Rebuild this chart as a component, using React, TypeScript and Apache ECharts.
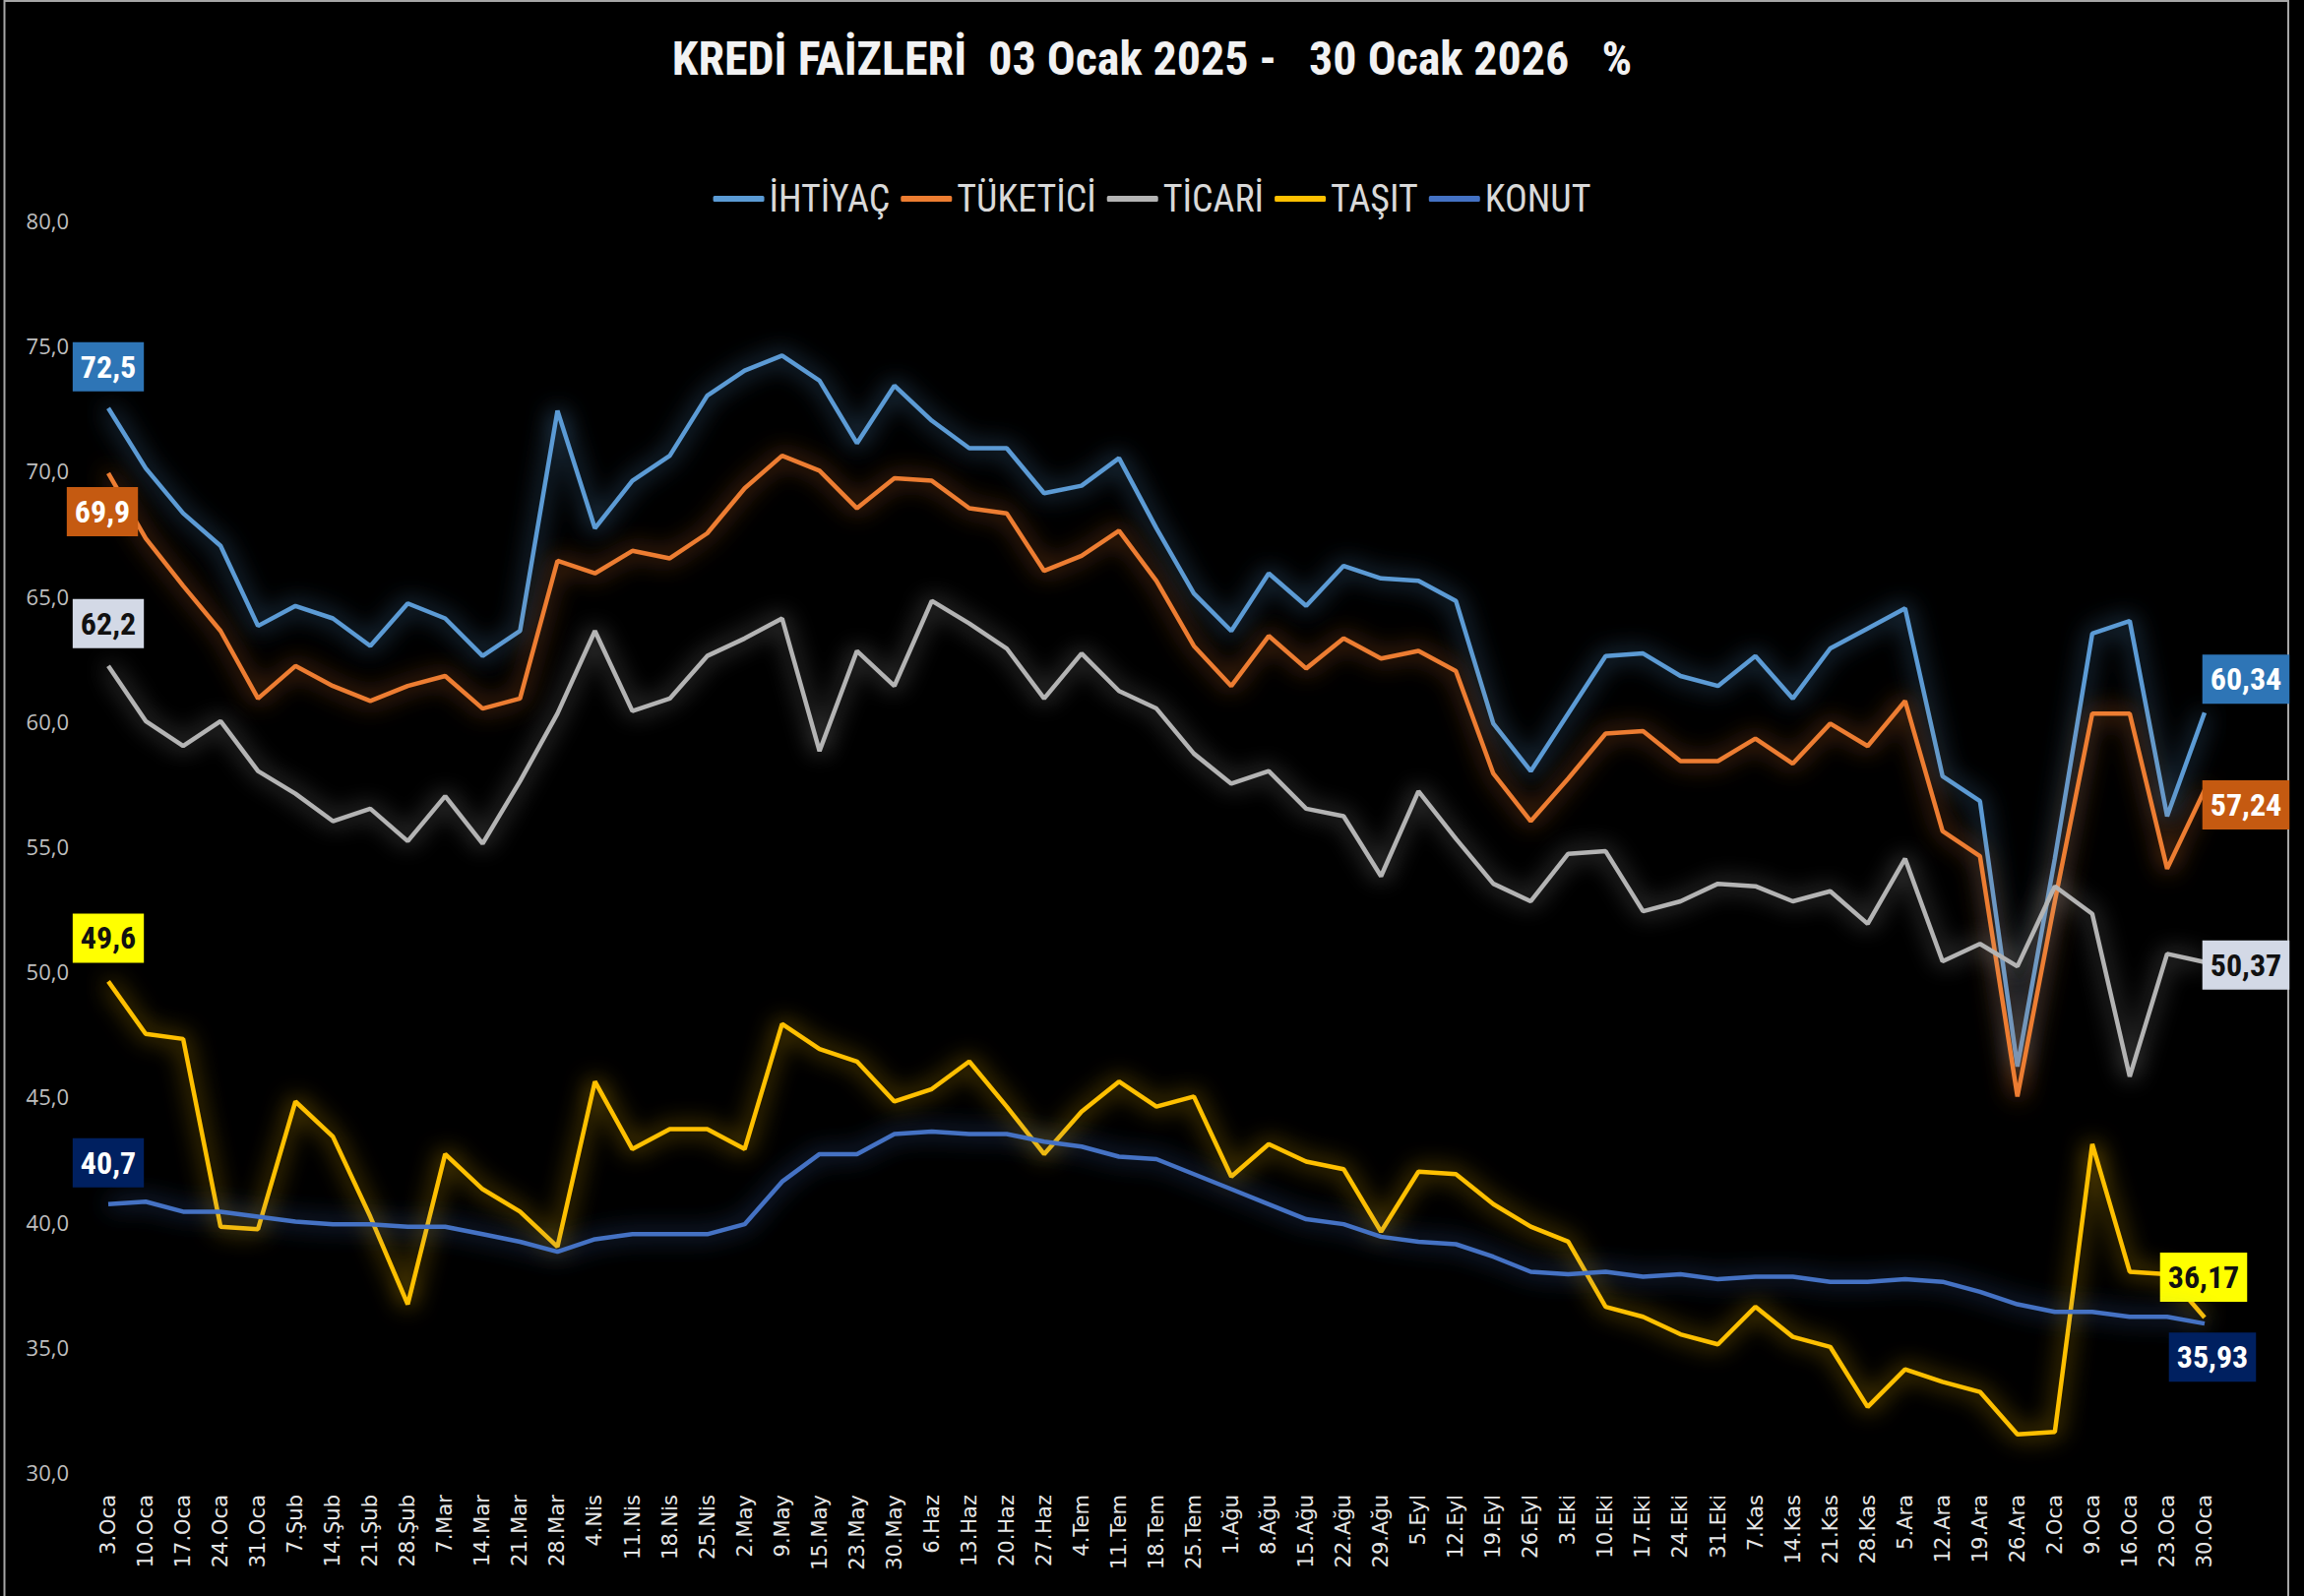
import React, { useEffect, useRef } from "react";
import * as echarts from "echarts";

const TITLE = "KREDİ FAİZLERİ  03 Ocak 2025 -   30 Ocak 2026   %";

const categories = [
  "3.Oca", "10.Oca", "17.Oca", "24.Oca", "31.Oca", "7.Şub", "14.Şub", "21.Şub", "28.Şub",
  "7.Mar", "14.Mar", "21.Mar", "28.Mar", "4.Nis", "11.Nis", "18.Nis", "25.Nis",
  "2.May", "9.May", "15.May", "23.May", "30.May", "6.Haz", "13.Haz", "20.Haz", "27.Haz",
  "4.Tem", "11.Tem", "18.Tem", "25.Tem", "1.Ağu", "8.Ağu", "15.Ağu", "22.Ağu", "29.Ağu",
  "5.Eyl", "12.Eyl", "19.Eyl", "26.Eyl", "3.Eki", "10.Eki", "17.Eki", "24.Eki", "31.Eki",
  "7.Kas", "14.Kas", "21.Kas", "28.Kas", "5.Ara", "12.Ara", "19.Ara", "26.Ara",
  "2.Oca", "9.Oca", "16.Oca", "23.Oca", "30.Oca",
];

const ihtiyac = [
  72.5, 70.1, 68.3, 67.0, 63.8, 64.6, 64.1, 63.0, 64.7, 64.1, 62.6, 63.6, 72.4, 67.7, 69.6, 70.6,
  73.0, 74.0, 74.6, 73.6, 71.1, 73.4, 72.0, 70.9, 70.9, 69.1, 69.4, 70.5, 67.7, 65.1, 63.6, 65.9,
  64.6, 66.2, 65.7, 65.6, 64.8, 59.9, 58.0, 60.3, 62.6, 62.7, 61.8, 61.4, 62.6, 60.9, 62.9, 63.7,
  64.5, 57.8, 56.8, 46.2, 54.5, 63.5, 64.0, 56.2, 60.34,
];

const tuketici = [
  69.9, 67.3, 65.4, 63.6, 60.9, 62.2, 61.4, 60.8, 61.4, 61.8, 60.5, 60.9, 66.4, 65.9, 66.8, 66.5,
  67.5, 69.3, 70.6, 70.0, 68.5, 69.7, 69.6, 68.5, 68.3, 66.0, 66.6, 67.6, 65.6, 63.0, 61.4, 63.4,
  62.1, 63.3, 62.5, 62.8, 62.0, 57.9, 56.0, 57.7, 59.5, 59.6, 58.4, 58.4, 59.3, 58.3, 59.9, 59.0,
  60.8, 55.6, 54.6, 45.0, 52.8, 60.3, 60.3, 54.1, 57.24,
];

const ticari = [
  62.2, 60.0, 59.0, 60.0, 58.0, 57.1, 56.0, 56.5, 55.2, 57.0, 55.1, 57.6, 60.3, 63.6, 60.4, 60.9,
  62.6, 63.3, 64.1, 58.8, 62.8, 61.4, 64.8, 63.9, 62.9, 60.9, 62.7, 61.2, 60.5, 58.7, 57.5, 58.0,
  56.5, 56.2, 53.8, 57.2, 55.3, 53.5, 52.8, 54.7, 54.8, 52.4, 52.8, 53.5, 53.4, 52.8, 53.2, 51.9,
  54.5, 50.4, 51.1, 50.2, 53.4, 52.3, 45.8, 50.7, 50.37,
];

const tasit = [
  49.6, 47.5, 47.3, 39.8, 39.7, 44.8, 43.4, 40.2, 36.7, 42.7, 41.3, 40.4, 39.0, 45.6, 42.9, 43.7,
  43.7, 42.9, 47.9, 46.9, 46.4, 44.8, 45.3, 46.4, 44.6, 42.7, 44.4, 45.6, 44.6, 45.0, 41.8, 43.1,
  42.4, 42.1, 39.6, 42.0, 41.9, 40.7, 39.8, 39.2, 36.6, 36.2, 35.5, 35.1, 36.6, 35.4, 35.0, 32.6,
  34.1, 33.6, 33.2, 31.5, 31.6, 43.1, 38.0, 37.9, 36.17,
];

const konut = [
  40.7, 40.8, 40.4, 40.4, 40.2, 40.0, 39.9, 39.9, 39.8, 39.8, 39.5, 39.2, 38.8, 39.3, 39.5, 39.5,
  39.5, 39.9, 41.6, 42.7, 42.7, 43.5, 43.6, 43.5, 43.5, 43.2, 43.0, 42.6, 42.5, 41.9, 41.3, 40.7,
  40.1, 39.9, 39.4, 39.2, 39.1, 38.6, 38.0, 37.9, 38.0, 37.8, 37.9, 37.7, 37.8, 37.8, 37.6, 37.6,
  37.7, 37.6, 37.2, 36.7, 36.4, 36.4, 36.2, 36.2, 35.93,
];

const seriesNames = ["İHTİYAÇ", "TÜKETİCİ", "TİCARİ", "TAŞIT", "KONUT"];
const seriesValues = [ihtiyac, tuketici, ticari, tasit, konut];
const lineColors = ["#5b9bd5", "#ed7d31", "#b4b4b4", "#ffc000", "#4472c4"];
const glowColors = [
  "rgba(91,155,213,0.9)",
  "rgba(237,125,49,0.9)",
  "rgba(180,180,180,0.8)",
  "rgba(255,192,0,0.9)",
  "rgba(68,114,196,0.9)",
];
const labelBg = ["#2e75b6", "#c55a11", "#d3d9e6", "#ffff00", "#002060"];
const labelFg = ["#ffffff", "#ffffff", "#111111", "#111111", "#ffffff"];
// offsets of the first and last value boxes relative to their points
const firstOffsets = [[0, -42], [-6, 39], [0, -43], [0, -44], [0, -42]];
const lastOffsets = [[42, -34], [42, 15], [42, 3], [-1, -41], [8, 34]];

const yTicks = { min: 30, max: 80, interval: 5 };

const NARROW = "'Liberation Sans Narrow', 'Roboto Condensed', 'Open Sans', sans-serif";

function fmt(v: number): string {
  return String(v).replace(".", ",");
}

export default function App() {
  const ref = useRef<HTMLDivElement>(null);

  useEffect(() => {
    if (!ref.current) return;
    const chart = echarts.init(ref.current, undefined, { renderer: "svg" });
    const last = categories.length - 1;

    const series = seriesNames.map((name, s) => ({
      name,
      type: "line",
      symbol: "circle",
      symbolSize: 0,
      showSymbol: true,
      showAllSymbol: true,
      z: 2 + s,
      lineStyle: {
        color: lineColors[s],
        width: 4.5,
        shadowBlur: 24,
        shadowColor: glowColors[s],
      },
      itemStyle: { color: lineColors[s] },
      emphasis: { disabled: true },
      data: seriesValues[s].map((v, i) => {
        if (i !== 0 && i !== last) return v;
        const off = i === 0 ? firstOffsets[s] : lastOffsets[s];
        return {
          value: v,
          label: {
            show: true,
            position: "inside",
            align: "center",
            verticalAlign: "middle",
            offset: off,
            formatter: (p: any) => fmt(p.value),
            color: labelFg[s],
            backgroundColor: labelBg[s],
            padding: [9, 8, 9, 8],
            fontFamily: NARROW,
            fontWeight: "bold",
            fontSize: 32,
            lineHeight: 32,
          },
        };
      }),
    }));

    chart.setOption({
      animation: false,
      backgroundColor: "#000000",
      title: {
        text: TITLE,
        left: "center",
        top: 30,
        textStyle: {
          color: "#f2f2f2",
          fontSize: 48,
          fontWeight: "bold",
          fontFamily: NARROW,
        },
      },
      legend: {
        data: seriesNames,
        left: "center",
        top: 178,
        icon: "roundRect",
        itemWidth: 52,
        itemHeight: 6,
        itemGap: 11,
        selectedMode: false,
        textStyle: {
          color: "#d9d9d9",
          fontSize: 38,
          fontFamily: NARROW,
        },
      },
      grid: { left: 91, right: 82, top: 224, bottom: 126 },
      xAxis: {
        type: "category",
        data: categories,
        boundaryGap: true,
        axisLine: { show: false },
        axisTick: { show: false },
        splitLine: { show: false },
        axisLabel: {
          interval: 0,
          rotate: 90,
          margin: 23,
          color: "#e6e6e6",
          fontSize: 21,
          fontFamily: "'DejaVu Sans', sans-serif",
        },
      },
      yAxis: {
        type: "value",
        min: yTicks.min,
        max: yTicks.max,
        interval: yTicks.interval,
        axisLine: { show: false },
        axisTick: { show: false },
        splitLine: { show: false },
        axisLabel: {
          margin: 21,
          color: "#bfbfbf",
          fontSize: 22,
          fontFamily: "'Open Sans', sans-serif",
          formatter: (v: number) => v.toFixed(1).replace(".", ","),
        },
      },
      graphic: [
        {
          type: "rect",
          silent: true,
          shape: { x: 4.5, y: 1, width: 2320.5, height: 1700 },
          style: { fill: "none", stroke: "#a6a6a6", lineWidth: 2 },
        },
      ],
      series,
    });

    return () => {
      chart.dispose();
    };
  }, []);

  return (
    <div
      ref={ref}
      style={{
        position: "fixed",
        left: 0,
        top: 0,
        width: 2341,
        height: 1622,
        background: "#000000",
      }}
    />
  );
}
